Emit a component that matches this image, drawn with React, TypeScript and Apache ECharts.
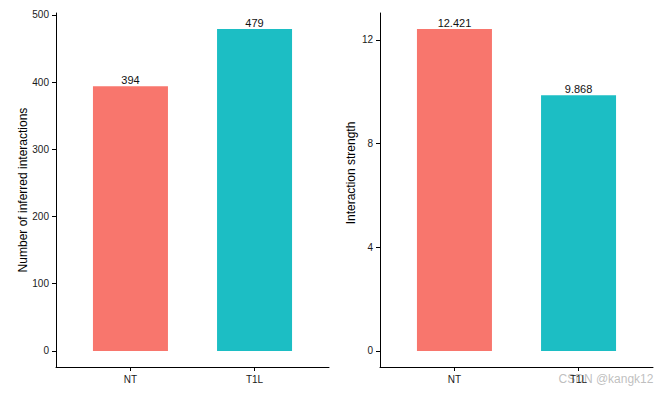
import React, { useEffect, useRef } from "react";
import * as echarts from "echarts";

const categories = ["NT", "T1L"];
const interactionCounts = [394, 479];
const interactionStrength = [12.421, 9.868];
const countTicks = [0, 100, 200, 300, 400, 500];
const strengthTicks = [0, 4, 8, 12];
const barColors = ["#F8766D", "#1CBEC4"];

const FONT = "Liberation Sans, Arial, sans-serif";

export default function App() {
  const ref = useRef<HTMLDivElement>(null);

  useEffect(() => {
    if (!ref.current) return;
    const chart = echarts.init(ref.current, null, { renderer: "svg" });

    const countMax = Math.max(...interactionCounts);
    const strengthMax = Math.max(...interactionStrength);

    const xAxisCommon = (gridIndex: number) => ({
      type: "value",
      gridIndex,
      min: -0.6,
      max: categories.length - 1 + 0.6,
      splitLine: { show: false },
      axisLine: { show: true, onZero: false, lineStyle: { color: "#000", width: 1 } },
      axisTick: {
        show: true,
        length: 4,
        customValues: categories.map((_, i) => i),
        lineStyle: { color: "#000" },
      },
      axisLabel: {
        customValues: categories.map((_, i) => i),
        formatter: (v: number) => categories[Math.round(v)] ?? "",
        fontFamily: FONT,
        fontSize: 10,
        color: "#1a1a1a",
        margin: 7,
      },
    });

    const yAxisCommon = (gridIndex: number, min: number, max: number, ticks: number[]) => ({
      type: "value",
      gridIndex,
      min,
      max,
      splitLine: { show: false },
      axisLine: { show: true, onZero: false, lineStyle: { color: "#000", width: 1 } },
      axisTick: { show: true, length: 4, customValues: ticks, lineStyle: { color: "#000" } },
      axisLabel: {
        customValues: ticks,
        fontFamily: FONT,
        fontSize: 10,
        color: "#1a1a1a",
        margin: 7,
      },
    });

    chart.setOption({
      animation: false,
      backgroundColor: "#fff",
      grid: [
        { left: 56, right: 332, top: 13, bottom: 26 },
        { left: 380, right: 8, top: 13, bottom: 26 },
      ],
      xAxis: [xAxisCommon(0), xAxisCommon(1)],
      yAxis: [
        yAxisCommon(0, -countMax * 0.05, countMax * 1.05, countTicks),
        yAxisCommon(1, -strengthMax * 0.05, strengthMax * 1.05, strengthTicks),
      ],
      series: [
        {
          type: "bar",
          xAxisIndex: 0,
          yAxisIndex: 0,
          barWidth: 75,
          data: interactionCounts.map((v, i) => ({
            value: [i, v],
            itemStyle: { color: barColors[i] },
          })),
          label: {
            show: true,
            position: "top",
            distance: 1,
            fontFamily: FONT,
            fontSize: 11,
            color: "#111",
            formatter: (p: any) => String(p.value[1]),
          },
        },
        {
          type: "bar",
          xAxisIndex: 1,
          yAxisIndex: 1,
          barWidth: 75,
          data: interactionStrength.map((v, i) => ({
            value: [i, v],
            itemStyle: { color: barColors[i] },
          })),
          label: {
            show: true,
            position: "top",
            distance: 1,
            fontFamily: FONT,
            fontSize: 11,
            color: "#111",
            formatter: (p: any) => String(p.value[1]),
          },
        },
      ],
      graphic: [
        {
          type: "text",
          x: 22.5,
          y: 190,
          rotation: Math.PI / 2,
          style: {
            text: "Number of inferred interactions",
            fontFamily: FONT,
            fontSize: 12,
            fill: "#000",
            align: "center",
            verticalAlign: "middle",
          },
        },
        {
          type: "text",
          x: 350.5,
          y: 173,
          rotation: Math.PI / 2,
          style: {
            text: "Interaction strength",
            fontFamily: FONT,
            fontSize: 12,
            fill: "#000",
            align: "center",
            verticalAlign: "middle",
          },
        },
        {
          type: "text",
          x: 606,
          y: 379,
          style: {
            text: "CSDN @kangk12",
            fontFamily: FONT,
            fontSize: 12,
            fill: "rgba(170,170,170,0.75)",
            align: "center",
            verticalAlign: "middle",
          },
        },
      ],
    });

    return () => chart.dispose();
  }, []);

  return (
    <div
      ref={ref}
      style={{ position: "fixed", left: 0, top: 0, width: 661, height: 393, background: "#fff" }}
    />
  );
}
